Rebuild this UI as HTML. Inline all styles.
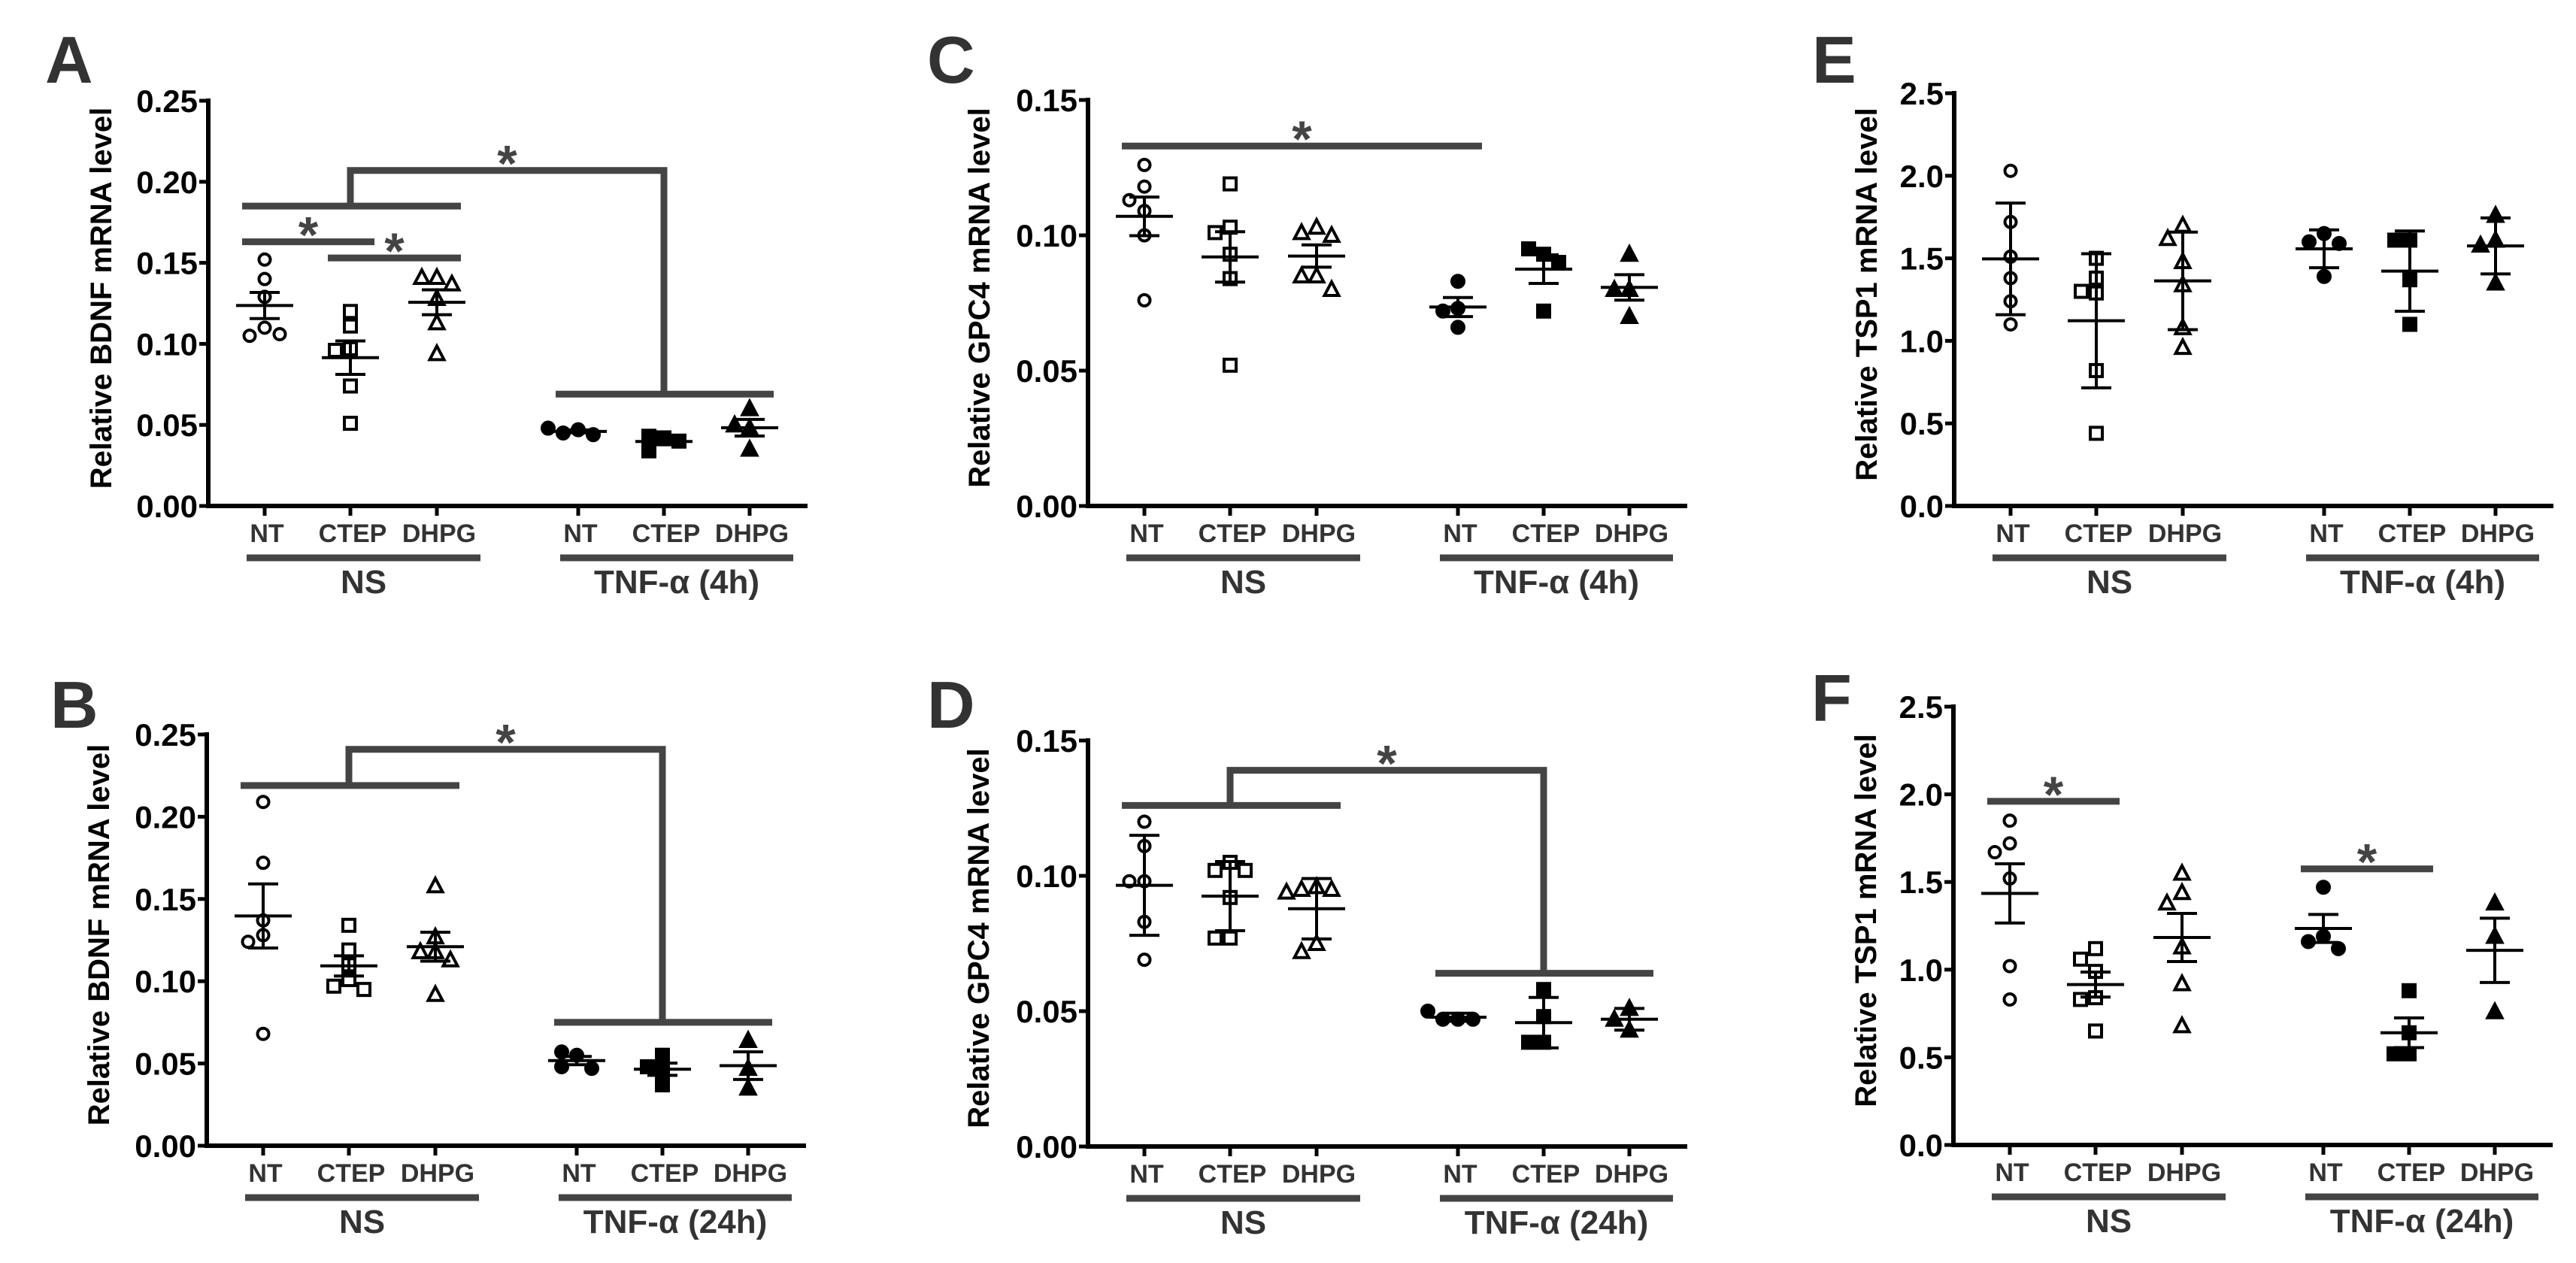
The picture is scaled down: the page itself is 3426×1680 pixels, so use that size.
<!DOCTYPE html>
<html><head><meta charset="utf-8"><title>mRNA levels</title>
<style>html,body{margin:0;padding:0;background:#fff;}svg{display:block;font-family:"Liberation Sans",Arial,sans-serif;}</style>
</head><body>
<svg id="fig" width="3426" height="1680" viewBox="0 0 3426 1680" xmlns="http://www.w3.org/2000/svg"></svg>
<script>
const categories = ["NT","CTEP","DHPG","NT","CTEP","DHPG"];
const groupLabels4 = ["NS","TNF-α (4h)"];
const groupLabels24 = ["NS","TNF-α (24h)"];
const ticksBDNF = ["0.00","0.05","0.10","0.15","0.20","0.25"];
const ticksGPC4 = ["0.00","0.05","0.10","0.15"];
const ticksTSP1 = ["0.0","0.5","1.0","1.5","2.0","2.5"];

const valuesA = [[0.152,0.140,0.129,0.110,0.105,0.106],[0.120,0.111,0.097,0.096,0.074,0.051],[0.141,0.141,0.137,0.128,0.113,0.094],[0.047,0.045,0.044,0.048],[0.042,0.034,0.040,0.043],[0.060,0.048,0.050,0.035]];
const valuesB = [[0.209,0.172,0.137,0.128,0.124,0.068],[0.134,0.119,0.110,0.101,0.097,0.095],[0.158,0.127,0.118,0.118,0.113,0.092],[0.055,0.057,0.048,0.047],[0.055,0.048,0.046,0.037],[0.064,0.047,0.035]];
const valuesC = [[0.126,0.118,0.113,0.109,0.100,0.076],[0.119,0.103,0.101,0.093,0.084,0.052],[0.103,0.101,0.100,0.085,0.085,0.080],[0.083,0.073,0.072,0.066],[0.093,0.095,0.090,0.072],[0.093,0.080,0.080,0.070]];
const valuesD = [[0.120,0.111,0.098,0.098,0.083,0.069],[0.105,0.102,0.102,0.092,0.077,0.077],[0.096,0.095,0.095,0.094,0.075,0.072],[0.047,0.047,0.047,0.050],[0.058,0.048,0.0385,0.0385],[0.051,0.047,0.043]];
const valuesE = [[2.03,1.72,1.51,1.38,1.24,1.10],[1.50,1.38,1.29,1.30,0.82,0.44],[1.70,1.62,1.48,1.34,1.08,0.96],[1.65,1.60,1.59,1.39],[1.61,1.61,1.37,1.10],[1.76,1.61,1.58,1.35]];
const valuesF = [[1.85,1.72,1.67,1.52,1.02,0.83],[1.12,1.06,0.99,0.84,0.83,0.65],[1.55,1.44,1.38,1.13,0.92,0.68],[1.47,1.19,1.16,1.12],[0.88,0.64,0.52,0.52],[1.38,1.19,0.76]];

// significance: [fromIdx, toIdx, yValue, hasStar]
const sigA = [[0,2,0.185,0],[3,5,0.069,0],[0,1,0.163,1],[1,2,0.153,1]];
const bracketA = [0.207];
const sigB = [[0,2,0.219,0],[3,5,0.075,0]];
const bracketB = [0.241];
const sigC = [[0,3,0.133,1]];
const sigD = [[0,2,0.126,0],[3,5,0.064,0]];
const bracketD = [0.139];
const sigF = [[0,1,1.96,1],[3,4,1.575,1]];

const NS = "http://www.w3.org/2000/svg";
const svg = document.getElementById('fig');
function mk(tag, attrs, parent){const e=document.createElementNS(NS,tag);for(const k in attrs)e.setAttribute(k,attrs[k]);(parent||svg).appendChild(e);return e;}

const catOffsets = [75,189,304,492,606,720];
const panels = [
 {key:"a",letter:"A",lx:60,ly:110,axisX:277,yTop:134,yBot:673,max:0.25,ticks:ticksBDNF,title:"Relative BDNF mRNA level",titleX:135,groups:groupLabels4,err:"sem",values:valuesA,sig:sigA,bracket:bracketA},
 {key:"b",letter:"B",lx:67,ly:968,axisX:275,yTop:977,yBot:1524,max:0.25,ticks:ticksBDNF,title:"Relative BDNF mRNA level",titleX:132,groups:groupLabels24,err:"sem",values:valuesB,sig:sigB,bracket:bracketB},
 {key:"c",letter:"C",lx:1233,ly:110,axisX:1447,yTop:133,yBot:673,max:0.15,ticks:ticksGPC4,title:"Relative GPC4 mRNA level",titleX:1303,groups:groupLabels4,err:"sem",values:valuesC,sig:sigC,bracket:null},
 {key:"d",letter:"D",lx:1233,ly:968,axisX:1447,yTop:985,yBot:1525,max:0.15,ticks:ticksGPC4,title:"Relative GPC4 mRNA level",titleX:1302,groups:groupLabels24,err:"sd",values:valuesD,sig:sigD,bracket:bracketD},
 {key:"e",letter:"E",lx:2410,ly:110,axisX:2599,yTop:124,yBot:673,max:2.5,ticks:ticksTSP1,title:"Relative TSP1 mRNA level",titleX:2483,groups:groupLabels4,err:"sd",values:valuesE,sig:[],bracket:null},
 {key:"f",letter:"F",lx:2409,ly:959,axisX:2598,yTop:940,yBot:1523,max:2.5,ticks:ticksTSP1,title:"Relative TSP1 mRNA level",titleX:2482,groups:groupLabels24,err:"sem",values:valuesF,sig:sigF,bracket:null}
];

function stats(v,type){const n=v.length;const m=v.reduce((a,b)=>a+b,0)/n;const sd=Math.sqrt(v.reduce((a,b)=>a+(b-m)*(b-m),0)/(n-1));return {m:m,e:type==="sd"?sd:sd/Math.sqrt(n)};}

function marker(g,shape,filled,x,y){
  const fill = filled ? "#000" : "#fff";
  let el;
  if(shape===0){ el=mk('circle',{cx:x,cy:y,r:filled?8:7.5,fill:fill,stroke:"#000","stroke-width":4},g); }
  else if(shape===1){ el=mk('rect',{x:x-8,y:y-8,width:16,height:16,fill:fill,stroke:"#000","stroke-width":4},g); }
  else { el=mk('polygon',{points:(x)+","+(y-10)+" "+(x+9.5)+","+(y+8)+" "+(x-9.5)+","+(y+8),fill:fill,stroke:"#000","stroke-width":4,"stroke-linejoin":"miter"},g); }
  return el;
}

function star(g,x,y){
  const st = mk('text',{x:x,y:y+14,"font-size":68,"font-weight":"bold","text-anchor":"middle",fill:"#444"},g);
  st.textContent = "*";
  
  
}

panels.forEach(p=>{
  const g = mk('g',{});
  
  
  const yS = v => p.yBot - v/p.max*(p.yBot-p.yTop);
  const xS = i => p.axisX + catOffsets[i];

  const L = mk('text',{x:p.lx,y:p.ly,"font-size":88,"font-weight":"bold",fill:"#333"},g);
  L.textContent = p.letter;
  
  

  const ya = mk('line',{x1:p.axisX,y1:p.yTop-3,x2:p.axisX,y2:p.yBot+3,stroke:"#000","stroke-width":6},g);
  
  
  const xa = mk('line',{x1:p.axisX-3,y1:p.yBot,x2:p.axisX+797,y2:p.yBot,stroke:"#000","stroke-width":6},g);
  
  

  p.ticks.forEach((t,i)=>{
    const v = p.max*i/(p.ticks.length-1);
    const y = yS(v);
    mk('line',{x1:p.axisX-12,y1:y,x2:p.axisX,y2:y,stroke:"#000","stroke-width":5},g);
    const tl = mk('text',{x:p.axisX-14,y:y+15,"font-size":42,"font-weight":"bold","text-anchor":"end",fill:"#000"},g);
    tl.textContent = t;
    
    
  });

  const cy = (p.yTop+p.yBot)/2 - 7;
  const ttl = mk('text',{x:p.titleX,y:cy,"font-size":40,"font-weight":"bold","text-anchor":"middle",transform:"rotate(-90 "+p.titleX+" "+cy+")",fill:"#000","dominant-baseline":"central"},g);
  ttl.textContent = p.title;
  
  

  categories.forEach((c,i)=>{
    const x = xS(i);
    mk('line',{x1:x,y1:p.yBot,x2:x,y2:p.yBot+13,stroke:"#000","stroke-width":5},g);
    const cl = mk('text',{x:x+3,y:p.yBot+48,"font-size":34,"font-weight":"bold","text-anchor":"middle",fill:"#333"},g);
    cl.textContent = c;
    
    
  });
  [0,1].forEach(k=>{
    const x1 = xS(k*3)-24, x2 = xS(k*3+2)+58;
    const gb = mk('line',{x1:x1,y1:p.yBot+69,x2:x2,y2:p.yBot+69,stroke:"#444","stroke-width":9},g);
    
    
    const gl = mk('text',{x:(x1+x2)/2,y:p.yBot+116,"font-size":44,"font-weight":"bold","text-anchor":"middle",fill:"#333"},g);
    gl.textContent = p.groups[k];
    
    
  });

  const barPos = [];
  p.sig.forEach(s=>{
    const x1 = xS(s[0])-30, x2 = xS(s[1])+32, y = yS(s[2]);
    barPos.push([x1,x2,y]);
    const sb = mk('line',{x1:x1,y1:y,x2:x2,y2:y,stroke:"#444","stroke-width":9},g);
    
    
    if(s[3]) star(g,(x1+x2)/2,y);
  });
  if(p.bracket){
    const yt = yS(p.bracket[0]);
    const xl = xS(1), xr = xS(4);
    const yl = barPos[0][2], yr = barPos[1][2];
    const br = mk('polyline',{points:xl+","+yl+" "+xl+","+yt+" "+xr+","+yt+" "+xr+","+yr,fill:"none",stroke:"#444","stroke-width":9},g);
    
    
    star(g,(xl+xr)/2,yt);
  }

  p.values.forEach((vals,i)=>{
    const cx = xS(i);
    const sg = mk('g',{},g);
    
    
    const placed = [];
    vals.forEach(v=>{
      const y = yS(v);
      const cands=[0,-20,20,-40,40,-60,60];
      let off=0;
      for(const o of cands){ if(placed.every(q=>Math.hypot(q[0]-o,q[1]-y)>=19)){off=o;break;} }
      placed.push([off,y]);
      const m = marker(sg,i%3,i>=3,cx+off,y);
      
      
    });
    const st = stats(vals,p.err);
    const ym = yS(st.m), yh = yS(st.m+st.e), yl = yS(st.m-st.e);
    const ml = mk('line',{x1:cx-38,y1:ym,x2:cx+38,y2:ym,stroke:"#000","stroke-width":4},sg);
    
    
    const eb = mk('path',{d:"M"+cx+","+yh+"V"+yl+"M"+(cx-20)+","+yh+"H"+(cx+20)+"M"+(cx-20)+","+yl+"H"+(cx+20),stroke:"#000","stroke-width":4,fill:"none"},sg);
    
    
  });
});
</script>
</body></html>
